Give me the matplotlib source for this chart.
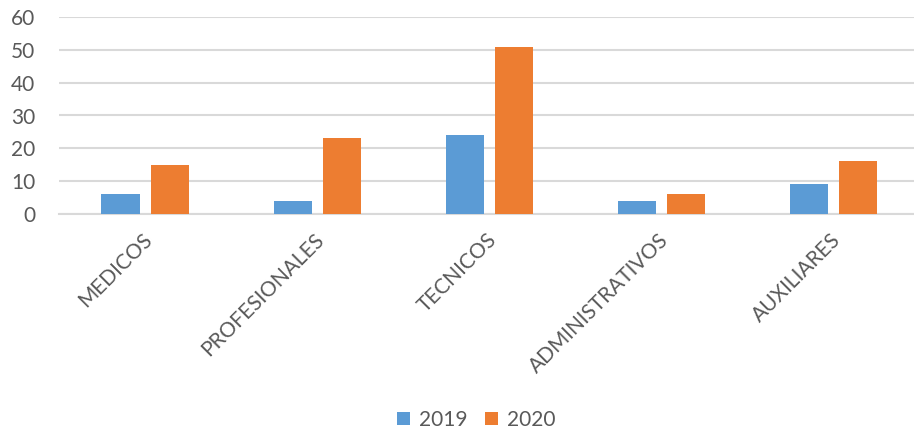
import matplotlib
matplotlib.use("Agg")
import matplotlib.pyplot as plt
import matplotlib.transforms as mtransforms
import numpy as np

categories = ["MEDICOS", "PROFESIONALES", "TECNICOS", "ADMINISTRATIVOS", "AUXILIARES"]
series_names = ["2019", "2020"]
values_2019 = [6, 4, 24, 4, 9]
values_2020 = [15, 23, 51, 6, 16]
y_ticks = [0, 10, 20, 30, 40, 50, 60]

blue = "#5b9bd5"
orange = "#ed7d31"
grey_text = "#595959"
grid_col = "#d9d9d9"

plt.rcParams["font.family"] = ["Lato", "DejaVu Sans"]

W, H = 914, 436
fig = plt.figure(figsize=(W / 100, H / 100), dpi=100)
left, right, top, bottom = 59, 914, 17, 214
ax = fig.add_axes([left / W, 1 - bottom / H, (right - left) / W, (bottom - top) / H])

x = np.arange(len(categories))
width = 0.221
offset = 0.1425
ax.bar(x - offset, values_2019, width, color=blue, label=series_names[0], zorder=3)
ax.bar(x + offset, values_2020, width, color=orange, label=series_names[1], zorder=3)

ax.set_xlim(-0.5, 4.47)
ax.set_ylim(0, 60)
ax.set_yticks(y_ticks)
ax.set_yticklabels([str(t) for t in y_ticks], fontsize=15, color=grey_text)
ax.tick_params(axis="y", length=0, pad=17)
ax.tick_params(axis="x", length=0)
ax.set_xticks([])
ax.yaxis.grid(True, color=grid_col, linewidth=1.5, zorder=0)
ax.set_axisbelow(True)
for side in ["top", "right", "left"]:
    ax.spines[side].set_visible(False)
ax.spines["bottom"].set_color(grid_col)
ax.spines["bottom"].set_linewidth(1.5)

# rotated category labels hanging below the axis
trans = mtransforms.blended_transform_factory(ax.transData, ax.transAxes)
off = mtransforms.ScaledTranslation(-3 / 100, -16 / 100, fig.dpi_scale_trans)
for xi, name in zip(x, categories):
    ax.text(xi, 0, name, transform=trans + off, rotation=45, rotation_mode="anchor",
            ha="right", va="top", fontsize=15, color=grey_text)

leg = fig.legend(loc="center", bbox_to_anchor=(0.521, 16 / H), ncol=2, frameon=False,
                 fontsize=15, handlelength=0.63, handleheight=0.63, handletextpad=0.4,
                 columnspacing=0.87, borderpad=0)
for t in leg.get_texts():
    t.set_color(grey_text)

fig.savefig("out.png", dpi=100)
